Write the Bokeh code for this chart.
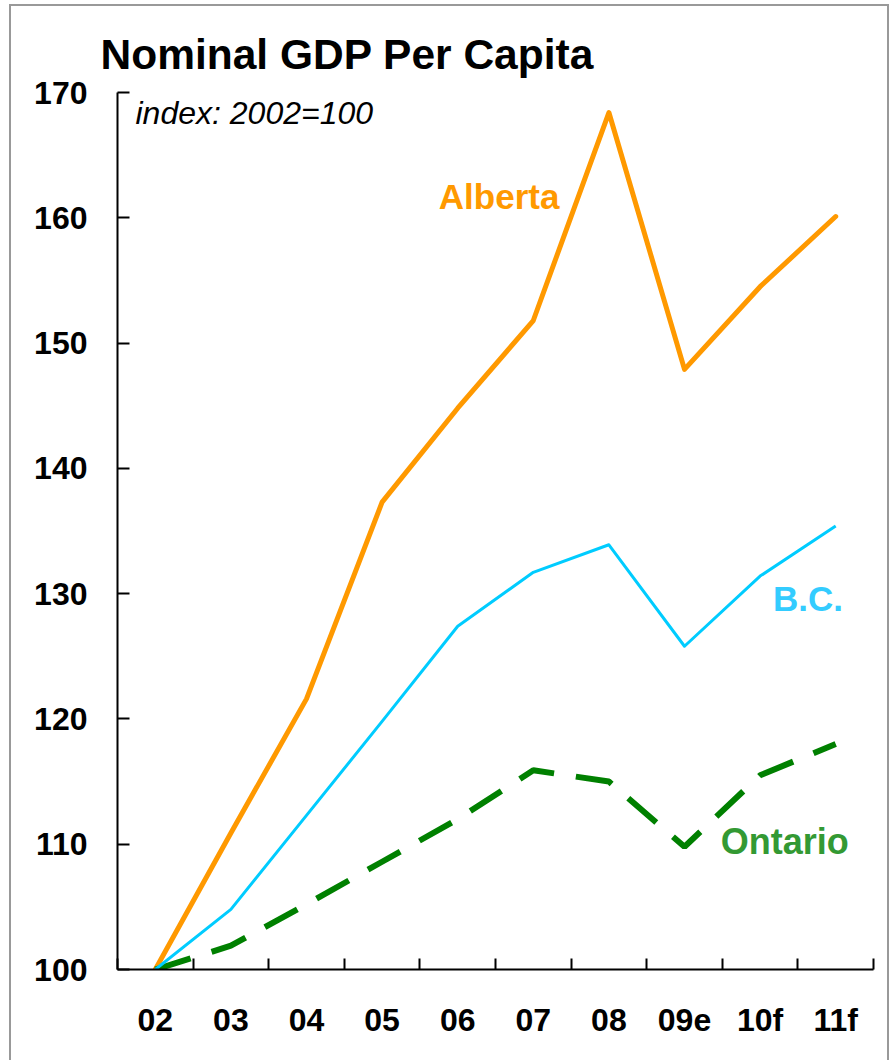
from bokeh.plotting import figure
from bokeh.models import Range1d, FixedTicker, Label, InlineStyleSheet
from bokeh.embed import file_html
from bokeh.resources import INLINE

categories = ["02", "03", "04", "05", "06", "07", "08", "09e", "10f", "11f"]
alberta = [100.0, 110.9, 121.6, 137.3, 144.8, 151.8, 168.4, 147.9, 154.5, 160.1]
bc = [100.0, 104.8, 112.3, 119.8, 127.4, 131.7, 133.9, 125.8, 131.4, 135.4]
ontario = [100.0, 101.9, 105.2, 108.6, 112.0, 115.9, 115.0, 109.8, 115.5, 118.0]
y_ticks = [100, 110, 120, 130, 140, 150, 160, 170]

FONT = "Liberation Sans"

xs = [i + 0.5 for i in range(len(categories))]
boundaries = [float(i) for i in range(len(categories) + 1)]

p = figure(width=883, height=1052, output_backend="svg", toolbar_location=None,
           x_range=Range1d(0, len(categories)), y_range=Range1d(y_ticks[0], y_ticks[-1]),
           min_border_left=117, min_border_right=10, min_border_top=92, min_border_bottom=83)
p.outline_line_color = None
p.xgrid.visible = False
p.ygrid.visible = False
p.background_fill_color = "white"
p.border_fill_color = "white"

p.title.text = "Nominal GDP Per Capita"
p.title.text_font = FONT
p.title.text_font_style = "bold"
p.title.text_font_size = "42.5px"
p.title.text_color = "black"
p.title.align = "left"
p.title.offset = -17
p.title.standoff = 29

# x axis: labels at category centres, ticks at category boundaries
xa = p.xaxis[0]
xa.ticker = FixedTicker(ticks=xs, minor_ticks=boundaries)
xa.major_label_overrides = {x: c for x, c in zip(xs, categories)}
xa.major_tick_in = 0
xa.major_tick_out = 0
xa.minor_tick_in = 11
xa.minor_tick_out = 0
xa.minor_tick_line_color = "black"
xa.minor_tick_line_width = 2
xa.axis_line_width = 2
xa.axis_line_color = "black"
xa.major_label_text_font = FONT
xa.major_label_text_font_style = "bold"
xa.major_label_text_font_size = "32px"
xa.major_label_text_color = "black"
xa.major_label_standoff = 32

ya = p.yaxis[0]
ya.ticker = FixedTicker(ticks=y_ticks, minor_ticks=[])
ya.major_tick_in = 12
ya.major_tick_out = 0
ya.major_tick_line_width = 2
ya.major_tick_line_color = "black"
ya.minor_tick_line_color = None
ya.axis_line_width = 2
ya.axis_line_color = "black"
ya.major_label_text_font = FONT
ya.major_label_text_font_style = "bold"
ya.major_label_text_font_size = "32px"
ya.major_label_text_color = "black"
ya.major_label_standoff = 30

p.line(xs, alberta, line_color="#FF9900", line_width=5, line_join="round", line_cap="round")
p.line(xs, ontario, line_color="#008000", line_width=6, line_dash="37 22")
p.line(xs, bc, line_color="#00CCFF", line_width=3, line_join="round")

p.add_layout(Label(x=4.25, y=161.7, text="Alberta", text_color="#FF9900",
                   text_font=FONT, text_font_style="bold", text_font_size="35px",
                   text_baseline="alphabetic"))
p.add_layout(Label(x=8.67, y=129.6, text="B.C.", text_color="#33CCFF",
                   text_font=FONT, text_font_style="bold", text_font_size="35px",
                   text_baseline="alphabetic"))
p.add_layout(Label(x=7.98, y=110.2, text="Ontario", text_color="#339933",
                   text_font=FONT, text_font_style="bold", text_font_size="36px",
                   text_baseline="alphabetic"))

p.add_layout(Label(x=18, y=857, x_units="screen", y_units="screen",
                   text="index: 2002=100", text_color="black",
                   text_font=FONT, text_font_style="italic", text_font_size="32px",
                   text_baseline="alphabetic"))

p.stylesheets = [InlineStyleSheet(css=(
    ":host::after { content: ''; position: absolute; left: 9px; top: 4px; "
    "width: 880px; height: 1100px; border: 2px solid #999999; "
    "box-sizing: border-box; pointer-events: none; z-index: 10; }"))]

open("out.html", "w").write(file_html(p, INLINE))
